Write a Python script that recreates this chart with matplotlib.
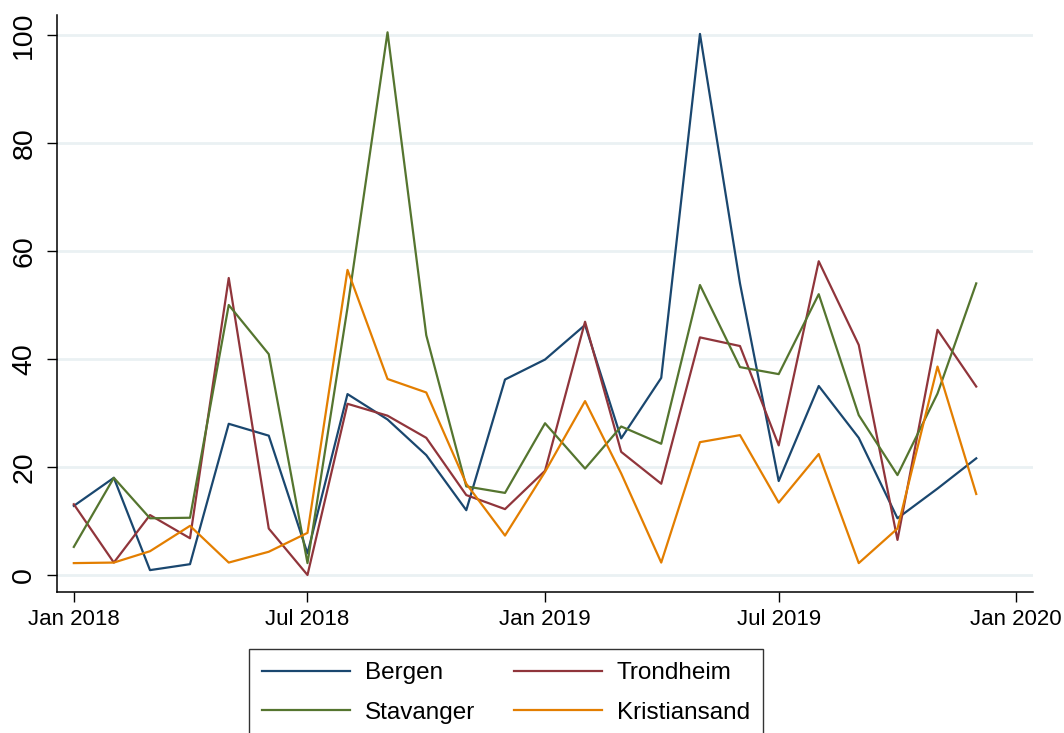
import matplotlib
matplotlib.use("Agg")
import matplotlib.pyplot as plt
import matplotlib.dates as mdates
import pandas as pd
import datetime as dt

plt.rcParams['font.family'] = ['Liberation Sans', 'DejaVu Sans']

# Monthly observations, Jan 2018 - Dec 2019
months = pd.date_range("2018-01-01", "2019-12-01", freq="MS")

bergen = [12.8, 18.0, 0.9, 2.0, 28.0, 25.8, 4.0, 33.5, 28.8, 22.2, 12.0, 36.2,
          39.9, 46.3, 25.3, 36.5, 100.2, 54.0, 17.4, 35.0, 25.4, 10.5, 16.0, 21.6]
trondheim = [13.1, 2.3, 11.1, 6.8, 55.0, 8.6, 0.0, 31.7, 29.5, 25.4, 14.8, 12.2,
             19.3, 46.9, 22.8, 16.9, 44.0, 42.4, 24.0, 58.1, 42.6, 6.5, 45.4, 34.9]
stavanger = [5.2, 18.0, 10.5, 10.6, 50.0, 40.9, 2.2, 49.5, 100.5, 44.4, 16.4, 15.2,
             28.1, 19.7, 27.5, 24.3, 53.7, 38.5, 37.2, 52.0, 29.6, 18.5, 33.6, 54.0]
kristiansand = [2.2, 2.3, 4.4, 9.1, 2.3, 4.3, 7.8, 56.5, 36.3, 33.8, 16.9, 7.3,
                19.1, 32.2, 18.8, 2.3, 24.6, 25.9, 13.4, 22.4, 2.2, 8.6, 38.6, 15.0]

series = [
    ("Bergen", bergen, "#1a476f"),
    ("Trondheim", trondheim, "#90353b"),
    ("Stavanger", stavanger, "#55752f"),
    ("Kristiansand", kristiansand, "#e37e00"),
]

y_ticks = [0, 20, 40, 60, 80, 100]
x_ticks = [dt.date(2018, 1, 1), dt.date(2018, 7, 1), dt.date(2019, 1, 1),
           dt.date(2019, 7, 1), dt.date(2020, 1, 1)]

fig = plt.figure(figsize=(10.64, 7.33), dpi=100)
ax = fig.add_axes([0.0536, 0.192, 0.9173, 0.7875])

for y in y_ticks:
    ax.axhline(y, color="#eaf1f3", lw=2.0, zorder=0)

handles = {}
for name, vals, col in series:
    h, = ax.plot(months, vals, color=col, lw=1.6, label=name, zorder=2)
    handles[name] = h

ax.set_xlim(dt.date(2018, 1, 1) - dt.timedelta(days=13.2),
            dt.date(2020, 1, 1) + dt.timedelta(days=13.7))
ax.set_ylim(-3.2, 103.7)

ax.set_yticks(y_ticks)
ax.set_xticks(x_ticks)
ax.xaxis.set_major_formatter(mdates.DateFormatter("%b %Y"))

for s in ("top", "right"):
    ax.spines[s].set_visible(False)
for s in ("left", "bottom"):
    ax.spines[s].set_linewidth(1.1)
    ax.spines[s].set_color("black")

ax.tick_params(axis="both", direction="out", length=7.2, width=1.0, colors="black")
ax.tick_params(axis="x", labelsize=16, pad=5)
ax.tick_params(axis="y", labelsize=20.5, pad=7)
for lab in ax.get_yticklabels():
    lab.set_rotation(90)
    lab.set_va("center")

# two columns, filled row by row
order = ["Bergen", "Stavanger", "Trondheim", "Kristiansand"]
leg = fig.legend([handles[n] for n in order], order,
                 loc="upper left", bbox_to_anchor=(249 / 1064, 1 - 649 / 733),
                 bbox_transform=fig.transFigure, ncol=2, fontsize=17.5,
                 frameon=True, fancybox=False, shadow=False,
                 handlelength=3.6, handletextpad=0.62, columnspacing=1.6,
                 borderpad=0.55, labelspacing=0.72, borderaxespad=0)
leg.get_frame().set_edgecolor("black")
leg.get_frame().set_linewidth(1.0)
for line in leg.get_lines():
    line.set_linewidth(1.6)

fig.savefig("out.png", dpi=100)
